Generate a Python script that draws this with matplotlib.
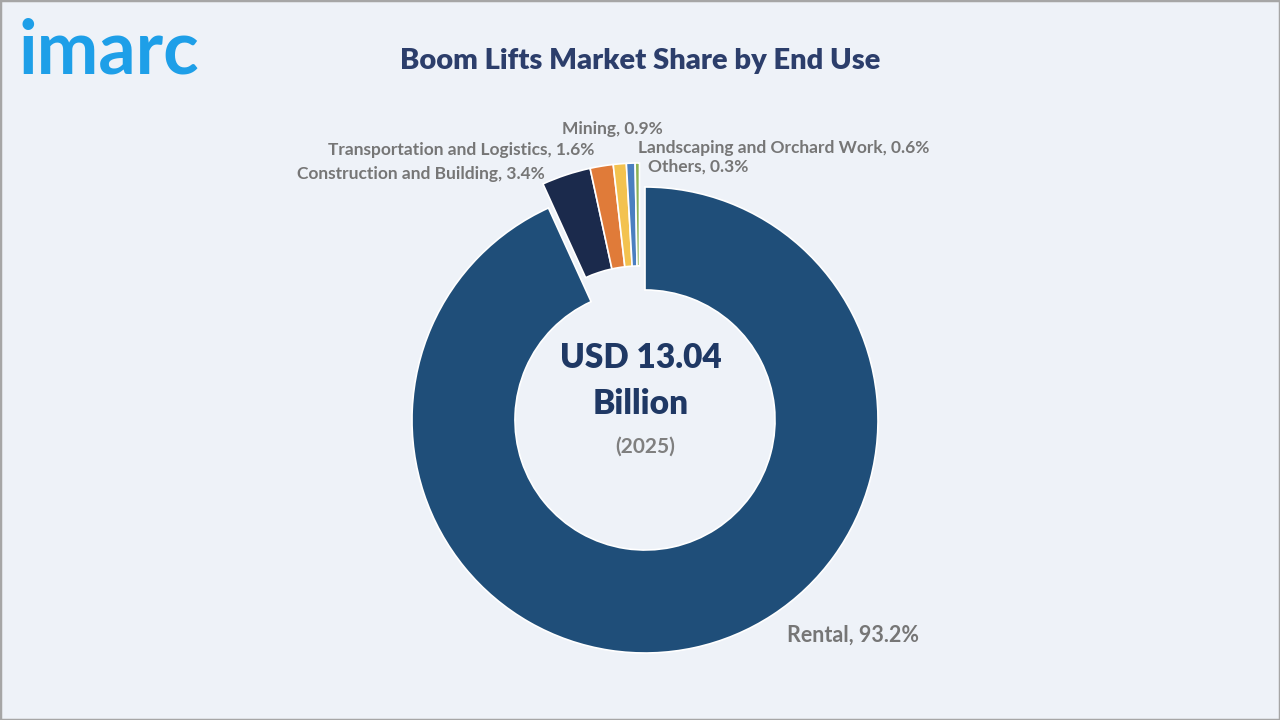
import matplotlib
matplotlib.use("Agg")
import matplotlib.pyplot as plt
from matplotlib.patches import Rectangle

categories = ["Rental", "Construction and Building", "Transportation and Logistics",
              "Mining", "Landscaping and Orchard Work", "Others"]
shares = [93.2, 3.4, 1.6, 0.9, 0.6, 0.3]
colors = ["#1F4E79", "#1B2A4C", "#E07B39", "#F3C24F", "#4B7FC0", "#8DB255"]
title = "Boom Lifts Market Share by End Use"
center_value = "USD 13.04\nBillion"
center_year = "(2025)"

BG = "#EEF2F8"
plt.rcParams['font.family'] = ['Lato', 'DejaVu Sans']

fig = plt.figure(figsize=(12.8, 7.2), dpi=100, facecolor=BG)

# pie axes: 1 data unit = 233 px, centered at (645, 420) px
scale = 233.0
half = 1.2
w = 2 * half * scale / 1280
h = 2 * half * scale / 720
cx, cy = 645 / 1280, (720 - 420) / 720
ax = fig.add_axes([cx - w / 2, cy - h / 2, w, h])
ax.set_facecolor(BG)

wedges, _ = ax.pie(shares, colors=colors, startangle=90, counterclock=False,
                   radius=1.0,
                   wedgeprops=dict(width=0.442, edgecolor='white', linewidth=1.2))
ax.set_xlim(-half, half)
ax.set_ylim(-half, half)
ax.set_aspect('equal')
ax.axis('off')

# small slices pulled out as a group
group_shift = (-5.5 / scale, 24.0 / scale)
for wd in wedges[1:]:
    wd.set_center(group_shift)

# labels
LBL = "#767676"
def lab(i, x, y, ha, fs=12.5):
    ax.text(x, y, f"{categories[i]}, {shares[i]}%", ha=ha, va='center',
            fontsize=fs, color=LBL, fontweight='bold', clip_on=False)

lab(0, 0.609, -0.923, 'left', fs=15.5)
lab(1, -0.429, 1.056, 'right')
lab(2, -0.219, 1.159, 'right')
lab(3, -0.142, 1.249, 'center')
lab(4, -0.030, 1.167, 'left')
lab(5, 0.013, 1.086, 'left')

# center text
ax.text(-0.017, 0.265, "USD 13.04", ha='center', va='center', fontsize=24,
        fontweight='heavy', color="#1F3864")
ax.text(-0.017, 0.069, "Billion", ha='center', va='center', fontsize=24,
        fontweight='heavy', color="#1F3864")
ax.text(0.0, -0.116, center_year, ha='center', va='center', fontsize=15,
        fontweight='bold', color="#7F7F7F")

# title
fig.text(640 / 1280, 1 - 61 / 720, title, ha='center', va='center',
         fontsize=21, fontweight='heavy', color="#2C3E6B")

# logo
fig.text(18 / 1280, 1 - 52 / 720, "imarc", ha='left', va='center',
         fontsize=53, fontweight='bold', color="#1E9FE8")

# frame
fig.patches.append(Rectangle((0, 0), 1, 1, transform=fig.transFigure,
                             fill=False, edgecolor="#A6A6A6", linewidth=2.5))

fig.savefig("out.png", dpi=100, facecolor=BG)
